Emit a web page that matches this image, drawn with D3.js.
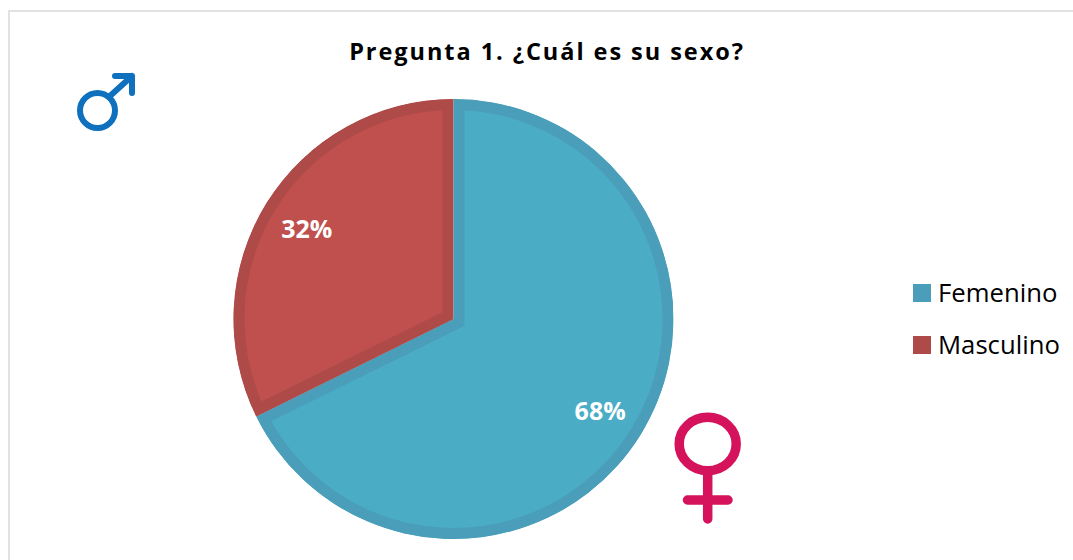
<!DOCTYPE html>
<html>
<head>
<meta charset="utf-8">
<script src="https://cdn.jsdelivr.net/npm/d3@7"></script>
<style>
  html, body { margin: 0; padding: 0; background: #fff; overflow: hidden; }
  text { font-family: "Open Sans", sans-serif; }
</style>
</head>
<body>
<div id="chart"></div>
<script>
const categories = ["Femenino", "Masculino"];
const values = [67.7, 32.3];
const fills = ["#4aacc5", "#c0504d"];
const borders = ["#4a9eb9", "#ae4a48"];
const titleText = "Pregunta 1. ¿Cuál es su sexo?";

const w = 1073, h = 560;
const svg = d3.select("#chart").append("svg")
  .attr("width", w)
  .attr("height", h)
  .style("display", "block");

// frame runs off the right and bottom of the picture
svg.append("rect")
  .attr("x", 9).attr("y", 11)
  .attr("width", w + 20).attr("height", h + 20)
  .attr("fill", "#fff")
  .attr("stroke", "#d9d9d9")
  .attr("stroke-width", 1.5);

svg.append("text")
  .attr("x", 547).attr("y", 60)
  .attr("text-anchor", "middle")
  .attr("font-size", 23.5)
  .attr("font-weight", 700)
  .attr("letter-spacing", 1.95)
  .attr("fill", "#000")
  .text(titleText);

const cx = 453.5, cy = 319, radius = 220, borderW = 11;
const pie = d3.pie().sort(null).value((d) => d);
const arcs = pie(values);
const arc = d3.arc().innerRadius(0).outerRadius(radius);
const labelArc = d3.arc().innerRadius(radius * 0.785).outerRadius(radius * 0.785);

const g = svg.append("g").attr("transform", `translate(${cx},${cy})`);

// stroke is twice the width and clipped to its slice, so the border sits inside
const defs = svg.append("defs");
defs.selectAll("clipPath").data(arcs).join("clipPath")
  .attr("id", (d, i) => `slice${i}`)
  .append("path")
  .attr("d", arc);

g.selectAll("path.slice").data(arcs).join("path")
  .attr("class", "slice")
  .attr("d", arc)
  .attr("fill", (d, i) => fills[i])
  .attr("stroke", (d, i) => borders[i])
  .attr("stroke-width", borderW * 2)
  .attr("stroke-linejoin", "miter")
  .attr("clip-path", (d, i) => `url(#slice${i})`);

g.selectAll("text.pct").data(arcs).join("text")
  .attr("class", "pct")
  .attr("x", (d) => labelArc.centroid(d)[0])
  .attr("y", (d) => labelArc.centroid(d)[1])
  .attr("dy", "0.41em")
  .attr("text-anchor", "middle")
  .attr("font-size", 25)
  .attr("font-weight", 700)
  .attr("fill", "#fff")
  .text((d) => `${Math.round(d.data)}%`);

// legend
const legendY = d3.scalePoint().domain(categories).range([293, 345]);
const legend = svg.append("g").selectAll("g").data(categories).join("g")
  .attr("transform", (d) => `translate(913,${legendY(d)})`);
legend.append("rect")
  .attr("x", 0).attr("y", -9)
  .attr("width", 18).attr("height", 18)
  .attr("fill", (d, i) => borders[i]);
legend.append("text")
  .attr("x", 25).attr("y", 0)
  .attr("dy", "0.36em")
  .attr("font-size", 25.7)
  .attr("fill", "#000")
  .text((d) => d);

// male symbol
const male = svg.append("g")
  .attr("fill", "none")
  .attr("stroke", "#0f70bd")
  .attr("stroke-width", 6)
  .attr("stroke-linecap", "round")
  .attr("stroke-linejoin", "round");
male.append("circle").attr("cx", 97.5).attr("cy", 110.5).attr("r", 17.5);
male.append("path").attr("d", "M110,96L132,76M115,76L132,76L132,93");

// female symbol
const female = svg.append("g")
  .attr("fill", "none")
  .attr("stroke", "#d5135c")
  .attr("stroke-width", 9.5)
  .attr("stroke-linecap", "round");
female.append("ellipse").attr("cx", 707.7).attr("cy", 444).attr("rx", 28.5).attr("ry", 26.7);
female.append("path").attr("d", "M707.7,474V519M687.5,500H728");
</script>
</body>
</html>
